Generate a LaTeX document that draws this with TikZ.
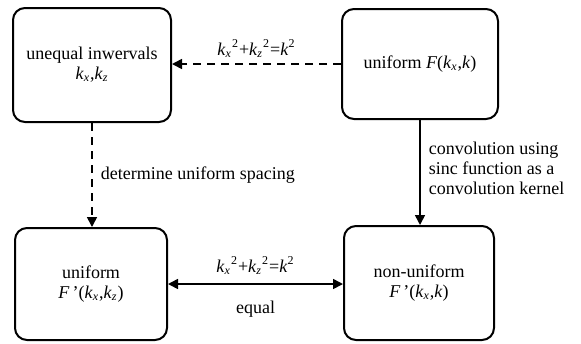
\documentclass[tikz,border=0pt]{standalone}
\usepackage{fontspec}
\setmainfont{Liberation Serif}
\usepackage{tikz}
\usetikzlibrary{arrows.meta, positioning, calc}
\newcommand{\kvar}[1]{\textit{k}\textsubscript{\textit{#1}}}
\newcommand{\kcirc}{\kvar{x}\textsuperscript{2}+\kvar{z}\textsuperscript{2}=\textit{k}\textsuperscript{2}}

\begin{document}
\begin{tikzpicture}[x=0.5pt, y=-0.5pt,
    font=\fontsize{9}{10}\selectfont,
    blk/.style={draw, line width=1pt, rounded corners=6pt, align=center, inner sep=0pt},
    lnk/.style={line width=0.8pt, -{Triangle[length=5pt, width=5pt]}},
    dlnk/.style={lnk, dash pattern=on 4pt off 3pt},
    lbl/.style={inner sep=1pt}]
    \useasboundingbox (0,0) rectangle (581,343);

    % Boxes
    \node[blk, minimum width=79pt, minimum height=57pt] (uneq) at (92,65) {unequal inwervals\\\kvar{x},\kvar{z}};
    \node[blk, minimum width=78pt, minimum height=55pt] (unif) at (420,64) {uniform \textit{F}(\kvar{x},\textit{k})};
    \node[blk, minimum width=76pt, minimum height=56pt] (fkz) at (91,284) {uniform\\\textit{F}\,'(\kvar{x},\kvar{z})};
    \node[blk, minimum width=75pt, minimum height=57pt] (fk) at (419,283) {non-uniform\\\textit{F}\,'(\kvar{x},\textit{k})};

    % Links
    \draw[dlnk] (unif.west) -- (unif.west -| uneq.east)
        node[lbl, midway, above=2pt] (lcirc) {\kcirc};
    \draw[dlnk] (uneq.south) -- (uneq.south |- fkz.north)
        node[lbl, midway, right=3pt] (lspace) {determine uniform spacing};
    \draw[lnk] (unif.south) -- (unif.south |- fk.north)
        node[lbl, midway, right=3pt, yshift=2pt, align=left] (lconv) {convolution using\\sinc function as a\\convolution kernel};
    \draw[lnk, {Triangle[length=5pt, width=5pt]}-{Triangle[length=5pt, width=5pt]}] (fkz.east) -- (fkz.east -| fk.west)
        node[lbl, midway, above=3.5pt] (lcirc2) {\kcirc}
        node[lbl, midway, below=7pt] (lequal) {equal};
\end{tikzpicture}
\end{document}
